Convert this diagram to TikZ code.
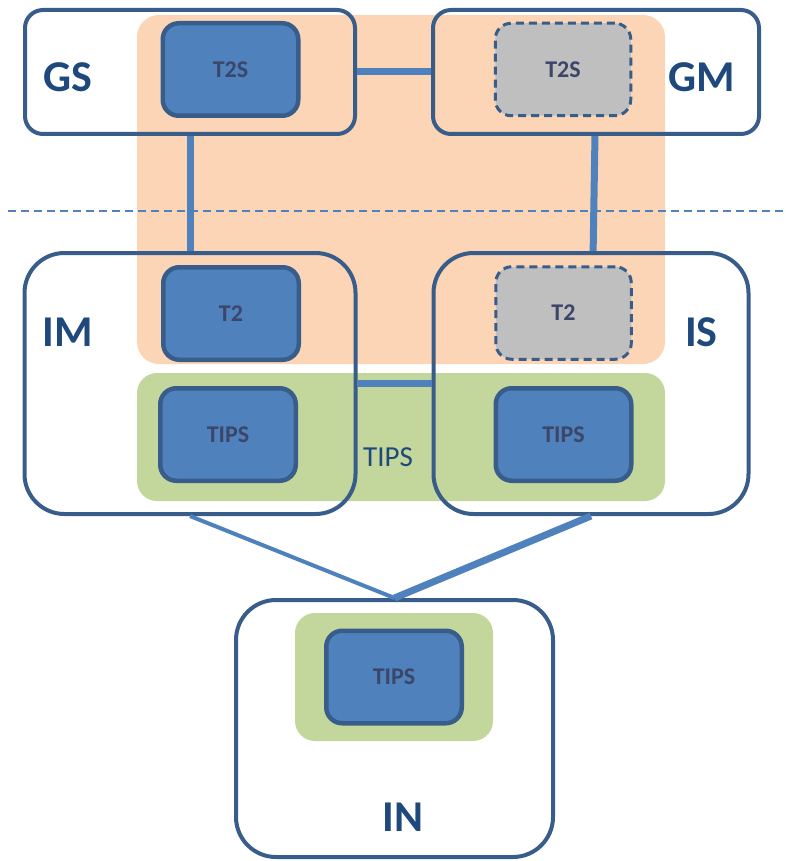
\documentclass[tikz,border=0pt]{standalone}
\usepackage{fontspec}
\setmainfont{Carlito}
\usepackage{tikz}
\usetikzlibrary{positioning}
\definecolor{rim}{HTML}{385D8A}
\definecolor{cable}{HTML}{4F81BD}
\definecolor{peach}{HTML}{FBD5B5}
\definecolor{olive}{HTML}{C3D69B}
\definecolor{ghost}{HTML}{BFBFBF}
\definecolor{boxtext}{RGB}{60,70,104}
\definecolor{labeltext}{HTML}{1F497D}
\tikzset{
site/.style={draw=rim, line width=4pt, rounded corners=18pt}, % the big white boxes
host/.style={site, rounded corners=40pt}, % the taller boxes have rounder corners
module/.style={draw=rim, fill=cable, line width=4.5pt, rounded corners=16pt, minimum width=135.5pt, minimum height=92.5pt, text=boxtext, font=\fontsize{24}{24}\selectfont\bfseries}, % blue inner box
spare/.style={module, fill=ghost, line width=3pt, dash pattern=on 8pt off 5pt}, % grey dashed box
tag/.style={text=labeltext, inner sep=0pt, font=\fontsize{44}{44}\selectfont\bfseries}, % big box name
link/.style={draw=cable, line width=7pt}, % connector between boxes
}

\begin{document}
\begin{tikzpicture}[x=1pt, y=-1pt]
        \useasboundingbox (0,0) rectangle (786,861);
        % coloured zones
        \fill[peach, rounded corners=22pt] (137,15) rectangle (665,364);
        \fill[olive, rounded corners=20pt] (137,373) rectangle (665,501);
        \fill[olive, rounded corners=20pt] (295,613) rectangle (493,741);
        \draw[cable, line width=1.5pt, dash pattern=on 8pt off 5pt] (8,211) -- (786,211);

        \node[site, minimum width=330pt, minimum height=124pt] (GS) at (190,72) {};
        \node[site, minimum width=326pt, minimum height=124pt, right=74pt of GS] (GM) {};
        \node[host, minimum width=331pt, minimum height=261pt, below=115pt of GS] (IM) {};
        \node[host, minimum width=315pt, minimum height=261pt, right=74pt of IM] (IS) {};
        \node[host, minimum width=317pt, minimum height=257pt] (IN) at (394.5,728.5) {};

        \node[tag] (GSname) at (67.5,77.5) {GS};
        \node[tag] (GMname) at (702,77.5) {GM};
        \node[tag] (IMname) at (68,332) {IM};
        \node[tag] (ISname) at (701.5,332) {IS};
        \node[tag] (INname) at (403,817) {IN};

        \node[module] (t2sGS) at (230.5,69.5) {T2S};
        \node[spare] (t2sGM) at (563,69.5) {T2S};
        \node[module] (t2IM) at (231,313.5) {T2};
        \node[spare] (t2IS) at (563.5,313) {T2};
        \node[module] (tipsIM) at (228,434.5) {TIPS};
        \node[module] (tipsIS) at (563.5,434.5) {TIPS};
        \node[module] (tipsIN) at (394,677) {TIPS};
        \node[text=labeltext, font=\fontsize{29}{29}\selectfont] (tipsname) at (388,457) {TIPS};

        \draw[link] (GS) -- (GM);
        \draw[link] (GS) -- (IM);
        \draw[link] (GM) -- (IS);
        \draw[link] (IM) -- (IS);
        \draw[link, line width=4pt] (IM.south) -- (IN.north);
        \draw[link] (IS.south) -- (IN.north);
    \end{tikzpicture}
\end{document}
